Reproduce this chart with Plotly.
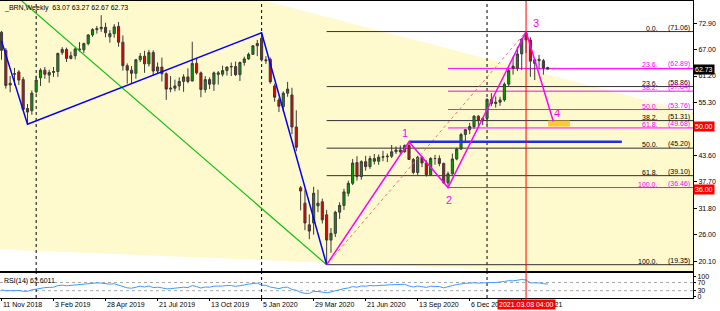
import plotly.graph_objects as go

# ---------------- data (weekly bars, index 0 = week of 11 Nov 2018) ----------------
opens = [70.9,66.9,59.6,61.6,62.1,60.4,54.0,53.5,57.7,60.8,62.5,61.4,62.0,62.2,66.4,67.1,65.1,65.7,67.2,67.0,
         68.4,70.3,71.5,71.7,72.0,69.9,70.6,72.2,68.7,63.5,62.5,61.8,64.8,65.6,63.9,66.4,62.3,63.2,61.7,58.3,
         58.5,59.0,60.0,61.0,60.1,64.0,61.9,58.2,60.4,59.4,61.9,61.6,62.4,63.2,63.3,61.5,64.2,65.0,66.0,67.9,
         69.6,64.8,64.9,59.0,55.9,54.4,57.4,57.0,49.9,36.4,33.0,28.2,28.6,32.4,33.3,30.4,24.8,26.3,31.0,32.5,
         35.2,37.4,42.0,38.9,42.2,41.1,42.9,42.3,43.2,43.3,43.4,44.4,44.8,44.4,45.8,42.7,39.8,43.2,41.9,39.3,
         42.9,42.9,41.8,37.5,39.5,42.8,45.0,48.2,49.3,50.0,52.3,51.3,51.8,56.0,55.1,55.4,55.9,59.4,63.4,62.9,
         66.1,70.7,69.2,64.0,64.6,64.6,63.07]
highs = [71.2,67.4,61.2,63.0,62.5,61.0,55.0,58.0,61.3,62.9,63.2,62.6,63.2,66.4,67.6,67.5,66.6,67.5,68.7,68.6,
         70.5,71.8,72.3,74.7,73.0,71.4,72.7,73.2,70.2,64.0,63.4,65.0,66.3,66.8,67.0,66.9,64.2,65.3,62.0,61.2,
         60.4,60.9,61.6,62.9,68.8,65.2,62.2,61.2,60.9,62.2,62.3,63.5,63.3,64.2,64.4,64.4,65.5,66.4,68.0,69.2,
         70.8,65.6,65.3,59.5,56.4,57.8,59.9,58.6,53.6,36.8,36.0,30.5,36.6,36.0,34.0,31.5,27.5,31.3,33.2,36.2,
         38.0,42.8,43.4,42.5,43.5,43.5,43.9,43.8,44.6,44.0,45.9,45.6,45.8,46.0,46.6,43.0,43.5,43.5,42.5,43.2,
         43.7,43.6,42.0,40.0,44.0,45.3,48.6,49.4,50.8,52.5,52.5,52.0,56.3,57.4,56.7,56.6,59.8,62.8,65.5,67.7,
         69.6,71.06,69.8,65.0,65.9,65.0,63.27]
lows = [64.8,58.4,57.6,59.1,59.2,53.6,50.5,52.6,57.3,59.0,60.6,59.7,61.0,61.0,65.9,64.3,64.9,64.9,66.6,66.3,
        68.0,69.9,70.6,71.0,69.8,68.6,69.7,67.7,62.4,59.5,59.6,60.6,64.3,61.9,63.3,61.3,61.8,60.0,55.9,57.6,
        57.8,58.0,57.7,59.6,60.0,61.5,56.5,57.5,58.3,57.9,59.3,61.1,61.3,61.2,61.2,60.1,63.5,64.8,65.9,65.6,
        64.4,63.9,59.5,55.5,53.2,53.3,56.6,48.3,44.5,31.4,27.0,25.0,26.0,31.0,28.5,19.35,22.0,25.5,29.5,31.5,
        34.5,37.0,38.0,38.2,40.2,40.6,41.6,41.5,42.3,42.1,43.0,43.9,43.8,44.2,42.6,39.4,39.2,41.0,38.9,39.2,
        41.5,41.2,37.3,36.46,39.3,42.5,44.8,46.6,48.3,49.5,49.9,50.3,50.4,54.5,54.2,54.6,55.5,59.0,61.5,62.3,
        62.5,66.3,61.0,60.3,62.8,61.5,62.67]
closes = [66.9,59.1,59.2,61.7,60.3,53.8,53.2,57.4,60.3,62.5,61.6,62.0,62.2,66.2,67.1,65.1,65.7,67.2,67.0,68.4,
          70.3,71.5,71.7,72.0,70.8,70.6,72.1,68.7,63.5,62.5,61.8,64.8,65.6,63.9,66.4,62.3,63.2,61.7,58.3,58.5,
          59.0,60.0,61.0,60.0,64.0,61.9,58.2,60.4,59.4,61.9,61.6,62.4,63.2,63.3,61.5,64.2,65.0,66.0,67.9,68.4,
          64.8,64.6,59.9,56.5,54.5,57.4,58.3,49.9,45.4,35.7,28.6,26.8,35.2,33.0,29.3,24.8,26.3,31.0,32.5,35.5,
          37.4,41.9,38.9,42.2,41.1,42.9,42.3,43.2,43.3,43.4,44.4,44.8,44.4,45.8,42.7,39.8,43.2,41.9,39.3,42.9,
          42.9,41.8,37.5,39.5,42.8,45.0,48.2,49.3,50.0,52.3,51.3,51.8,56.0,55.1,55.4,55.9,59.4,62.4,62.9,66.1,
          69.4,69.2,64.5,64.8,64.9,63.0,62.73]
rsi14 = [34,30,30,32,31,27,27,34,38,43,45,46,47,55,57,54,56,59,59,61,
         64,66,68,67,63,62,64,57,48,44,42,47,52,48,53,45,47,44,39,40,
         42,45,47,45,55,50,43,48,47,52,51,53,55,55,51,56,58,62,66,67,
         57,56,48,43,40,46,47,36,32,22,17,17,27,26,24,20,24,30,33,40,
         43,50,47,53,52,55,54,56,57,57,59,60,59,61,53,48,53,51,46,52,
         52,50,44,48,55,60,64,66,67,69,67,68,72,70,70,71,75,79,78,81,
         85,82,68,68,68,64,62.6]

date_label_text = ["11 Nov 2018", "3 Feb 2019", "28 Apr 2019", "21 Jul 2019", "13 Oct 2019", "5 Jan 2020",
                   "29 Mar 2020", "21 Jun 2020", "13 Sep 2020", "6 Dec 2020", "28 Feb 2021"]
date_label_bar = [0, 12, 24, 36, 48, 60, 72, 84, 96, 108, 120]
year_sep_bars = [8, 60, 112]
vline_bar = 121
vline_text = "2021.03.08 04:00"

price_ticks = [72.90, 67.00, 61.20, 55.30, 43.60, 37.70, 31.80, 26.00, 20.10]
rsi_ticks = [100, 70, 30, 0]
rsi_levels = [70, 30]

# objects
blue_zig_bar = [0, 6, 60, 75]
blue_zig_price = [69.0, 50.5, 70.8, 19.35]
green_line_bar = [0, 75]
green_line_price = [81.75, 19.35]
wave_bar = [75, 94, 103, 121, 127.3]
wave_price = [19.35, 46.6, 36.46, 71.06, 51.1]
wave_label = ["1", "2", "3", "4"]
wave_label_bar = [93.1, 103.2, 123.2, 128.1]
wave_label_price = [48.56, 33.7, 72.9, 53.06]
fib_anchor_bar = [75, 121]
fib_anchor_price = [19.35, 71.06]
blue_hline_bar = [94, 143.1]
blue_hline_price = [46.6, 46.6]

fib_black_level = [0.0, 23.6, 38.2, 50.0, 61.8, 100.0]
fib_black_price = [71.06, 58.86, 51.31, 45.20, 39.10, 19.35]
fib_black_start = 75
fib_mag_level = [23.6, 38.2, 50.0, 61.8, 100.0]
fib_mag_price = [62.89, 57.84, 53.76, 49.68, 36.46]
fib_mag_start = 103

red_hlines = [50.00, 36.00]
bid_price = 62.73
zone_bar = [126.1, 131.1]
zone_price = [50.0, 51.31]

# triangle (upper edge, lower edge) in bar/price coordinates
tri_upper_bar = [60.92, 159.51]
tri_upper_price = [77.84, 53.09]
tri_lower_bar = [-0.35, 159.51]
tri_lower_price = [22.76, 16.48]

title_text = "_BRN,Weekly  63.07 63.27 62.67 62.73"
rsi_text = "RSI(14) 62.6011"

# ---------------- figure ----------------
FONT = "Liberation Sans, Arial, sans-serif"
bars = list(range(len(closes)))
XR = [-0.346, 159.51]
YR = [17.95, 77.84]
RR = [-5.6, 116.3]
MAG = "#FF00FF"

fig = go.Figure()

fig.add_trace(go.Candlestick(
    x=bars, open=opens, high=highs, low=lows, close=closes,
    increasing=dict(line=dict(color="#3a3a3a", width=1), fillcolor="#00A000"),
    decreasing=dict(line=dict(color="#3a3a3a", width=1), fillcolor="#E80000"),
    whiskerwidth=0, hoverinfo="skip", showlegend=False, xaxis="x", yaxis="y"))

def line(xs, ys, color, width, dash="solid"):
    fig.add_trace(go.Scatter(x=xs, y=ys, mode="lines", line=dict(color=color, width=width, dash=dash),
                             hoverinfo="skip", showlegend=False, xaxis="x", yaxis="y"))

line(fib_anchor_bar, fib_anchor_price, "#F07070", 1, "dot")
line(green_line_bar, green_line_price, "#10C010", 1.2)
line(blue_zig_bar, blue_zig_price, "#0000FF", 1.5)
line(blue_hline_bar, blue_hline_price, "#2030E0", 2.5)
line(wave_bar, wave_price, MAG, 1.5)

fig.add_trace(go.Scatter(x=bars, y=rsi14, mode="lines", line=dict(color="#3C9CFF", width=1),
                         hoverinfo="skip", showlegend=False, xaxis="x2", yaxis="y2"))

shapes = []
# triangle fill
tri_path = (f"M {XR[0]},{tri_upper_price[0]} L {tri_upper_bar[0]},{tri_upper_price[0]} "
            f"L {tri_upper_bar[1]},{tri_upper_price[1]} L {tri_lower_bar[1]},{tri_lower_price[1]} "
            f"L {tri_lower_bar[0]},{tri_lower_price[0]} Z")
shapes.append(dict(type="path", path=tri_path, xref="x", yref="y", fillcolor="#FFFACD",
                   line=dict(width=0), layer="below"))
# period separators (main + rsi panes)
for b in year_sep_bars:
    shapes.append(dict(type="line", xref="x", yref="y", x0=b, x1=b, y0=YR[0], y1=YR[1],
                       line=dict(color="#000000", width=1, dash="dot"), layer="below"))
    shapes.append(dict(type="line", xref="x2", yref="y2", x0=b, x1=b, y0=RR[0], y1=RR[1],
                       line=dict(color="#000000", width=1, dash="dot"), layer="below"))
# bid line
shapes.append(dict(type="line", xref="x domain", yref="y", x0=0, x1=1, y0=bid_price, y1=bid_price,
                   line=dict(color="#C0C0C0", width=1), layer="below"))
for p in fib_black_price:
    shapes.append(dict(type="line", xref="x", yref="y", x0=fib_black_start, x1=XR[1], y0=p, y1=p,
                       line=dict(color="#303030", width=1), layer="below"))
for p in fib_mag_price:
    shapes.append(dict(type="line", xref="x", yref="y", x0=fib_mag_start, x1=XR[1], y0=p, y1=p,
                       line=dict(color=MAG, width=1), layer="below"))
for p in red_hlines:
    shapes.append(dict(type="line", xref="x domain", yref="y", x0=0, x1=1, y0=p, y1=p,
                       line=dict(color="#FF0000", width=1), layer="below"))
shapes.append(dict(type="rect", xref="x", yref="y", x0=zone_bar[0], x1=zone_bar[1], y0=zone_price[0],
                   y1=zone_price[1], fillcolor="#FFC833", line=dict(width=0), layer="below"))
shapes.append(dict(type="line", xref="x", yref="paper", x0=vline_bar, x1=vline_bar, y0=-0.02, y1=1,
                   line=dict(color="#FF0000", width=1), layer="above"))
for lv in rsi_levels:
    shapes.append(dict(type="line", xref="x2 domain", yref="y2", x0=0, x1=1, y0=lv, y1=lv,
                       line=dict(color="#A8A8A8", width=1, dash="dot"), layer="below"))

ann = []
def A(**k):
    k.setdefault("showarrow", False)
    ann.append(k)

A(text=title_text, xref="paper", yref="paper", x=0, y=1, xanchor="left", yanchor="top", xshift=2, yshift=-1,
  font=dict(family=FONT, size=7, color="#000000"))
A(text=rsi_text, xref="paper", yref="y2", x=0, y=RR[1], xanchor="left", yanchor="top", xshift=2, yshift=-2,
  font=dict(family=FONT, size=7, color="#000000"))
for t, b, p in zip(wave_label, wave_label_bar, wave_label_price):
    A(text=t, xref="x", yref="y", x=b, y=p, xanchor="center", yanchor="middle",
      font=dict(family=FONT, size=11, color=MAG))
for lv, p in zip(fib_black_level, fib_black_price):
    A(text=f"{lv:.1f}.", xref="paper", yref="y", x=660 / 693, y=p, xanchor="right", yanchor="bottom",
      yshift=-2, font=dict(family=FONT, size=7, color="#000000"))
    A(text=f"({p:.2f})", xref="paper", yref="y", x=692 / 693, y=p, xanchor="right", yanchor="bottom",
      yshift=-2, font=dict(family=FONT, size=7, color="#000000"))
for lv, p in zip(fib_mag_level, fib_mag_price):
    A(text=f"{lv:.1f}.", xref="paper", yref="y", x=660 / 693, y=p, xanchor="right", yanchor="bottom",
      yshift=-2, font=dict(family=FONT, size=7, color=MAG))
    A(text=f"({p:.2f})", xref="paper", yref="y", x=692 / 693, y=p, xanchor="right", yanchor="bottom",
      yshift=-2, font=dict(family=FONT, size=7, color=MAG))
for t, b in zip(date_label_text, date_label_bar):
    A(text=t, xref="x2", yref="paper", x=b, y=0, xanchor="left", yanchor="top", xshift=-1, yshift=-1,
      font=dict(family=FONT, size=7, color="#000000"))
A(text=vline_text, xref="x2", yref="paper", x=vline_bar, y=0, xanchor="center", yanchor="top", yshift=-1,
  bgcolor="#FF0000", borderpad=1, font=dict(family=FONT, size=7, color="#FFFFFF"))
for p in red_hlines:
    A(text=f"{p:.2f}", xref="paper", yref="y", x=1, y=p, xanchor="left", yanchor="middle", xshift=0,
      bgcolor="#FF0000", borderpad=1, font=dict(family=FONT, size=7, color="#FFFFFF"))
A(text=f"{bid_price:.2f}", xref="paper", yref="y", x=1, y=bid_price, xanchor="left", yanchor="middle",
  bgcolor="#000000", borderpad=1, font=dict(family=FONT, size=7, color="#FFFFFF"))

H_PLOT = 311 - 1 - 13
main_dom = [(298 - 271) / H_PLOT, 1]
rsi_dom = [0, (298 - 273) / H_PLOT]
axfont = dict(family=FONT, size=7, color="#000000")

fig.update_layout(
    width=720, height=311, margin=dict(l=0, r=27, t=1, b=13),
    paper_bgcolor="#FFFFFF", plot_bgcolor="#FFFFFF",
    showlegend=False, shapes=shapes, annotations=ann,
    xaxis=dict(domain=[0, 1], anchor="y", range=XR, showgrid=False, zeroline=False, showticklabels=False,
               showline=True, mirror=True, linecolor="#000000", linewidth=1, ticks="",
               rangeslider=dict(visible=False), fixedrange=True),
    yaxis=dict(domain=main_dom, anchor="x", side="right", range=YR, showgrid=False, zeroline=False,
               tickvals=price_ticks, ticktext=[f"{v:.2f}" for v in price_ticks], tickfont=axfont,
               ticks="outside", ticklen=3, tickcolor="#000000", showline=True, linecolor="#000000",
               linewidth=1, fixedrange=True),
    xaxis2=dict(domain=[0, 1], anchor="y2", matches="x", range=XR, showgrid=False, zeroline=False,
                showticklabels=False, tickvals=date_label_bar, ticks="outside", ticklen=2,
                tickcolor="#000000", showline=True, mirror=True, linecolor="#000000", linewidth=1),
    yaxis2=dict(domain=rsi_dom, anchor="x2", side="right", range=RR, showgrid=False, zeroline=False,
                tickvals=rsi_ticks, ticktext=[str(v) for v in rsi_ticks], tickfont=axfont,
                ticks="outside", ticklen=2, tickcolor="#000000", showline=True, linecolor="#000000",
                linewidth=1, fixedrange=True),
)

fig.write_html("out.html", config={"displayModeBar": False})
